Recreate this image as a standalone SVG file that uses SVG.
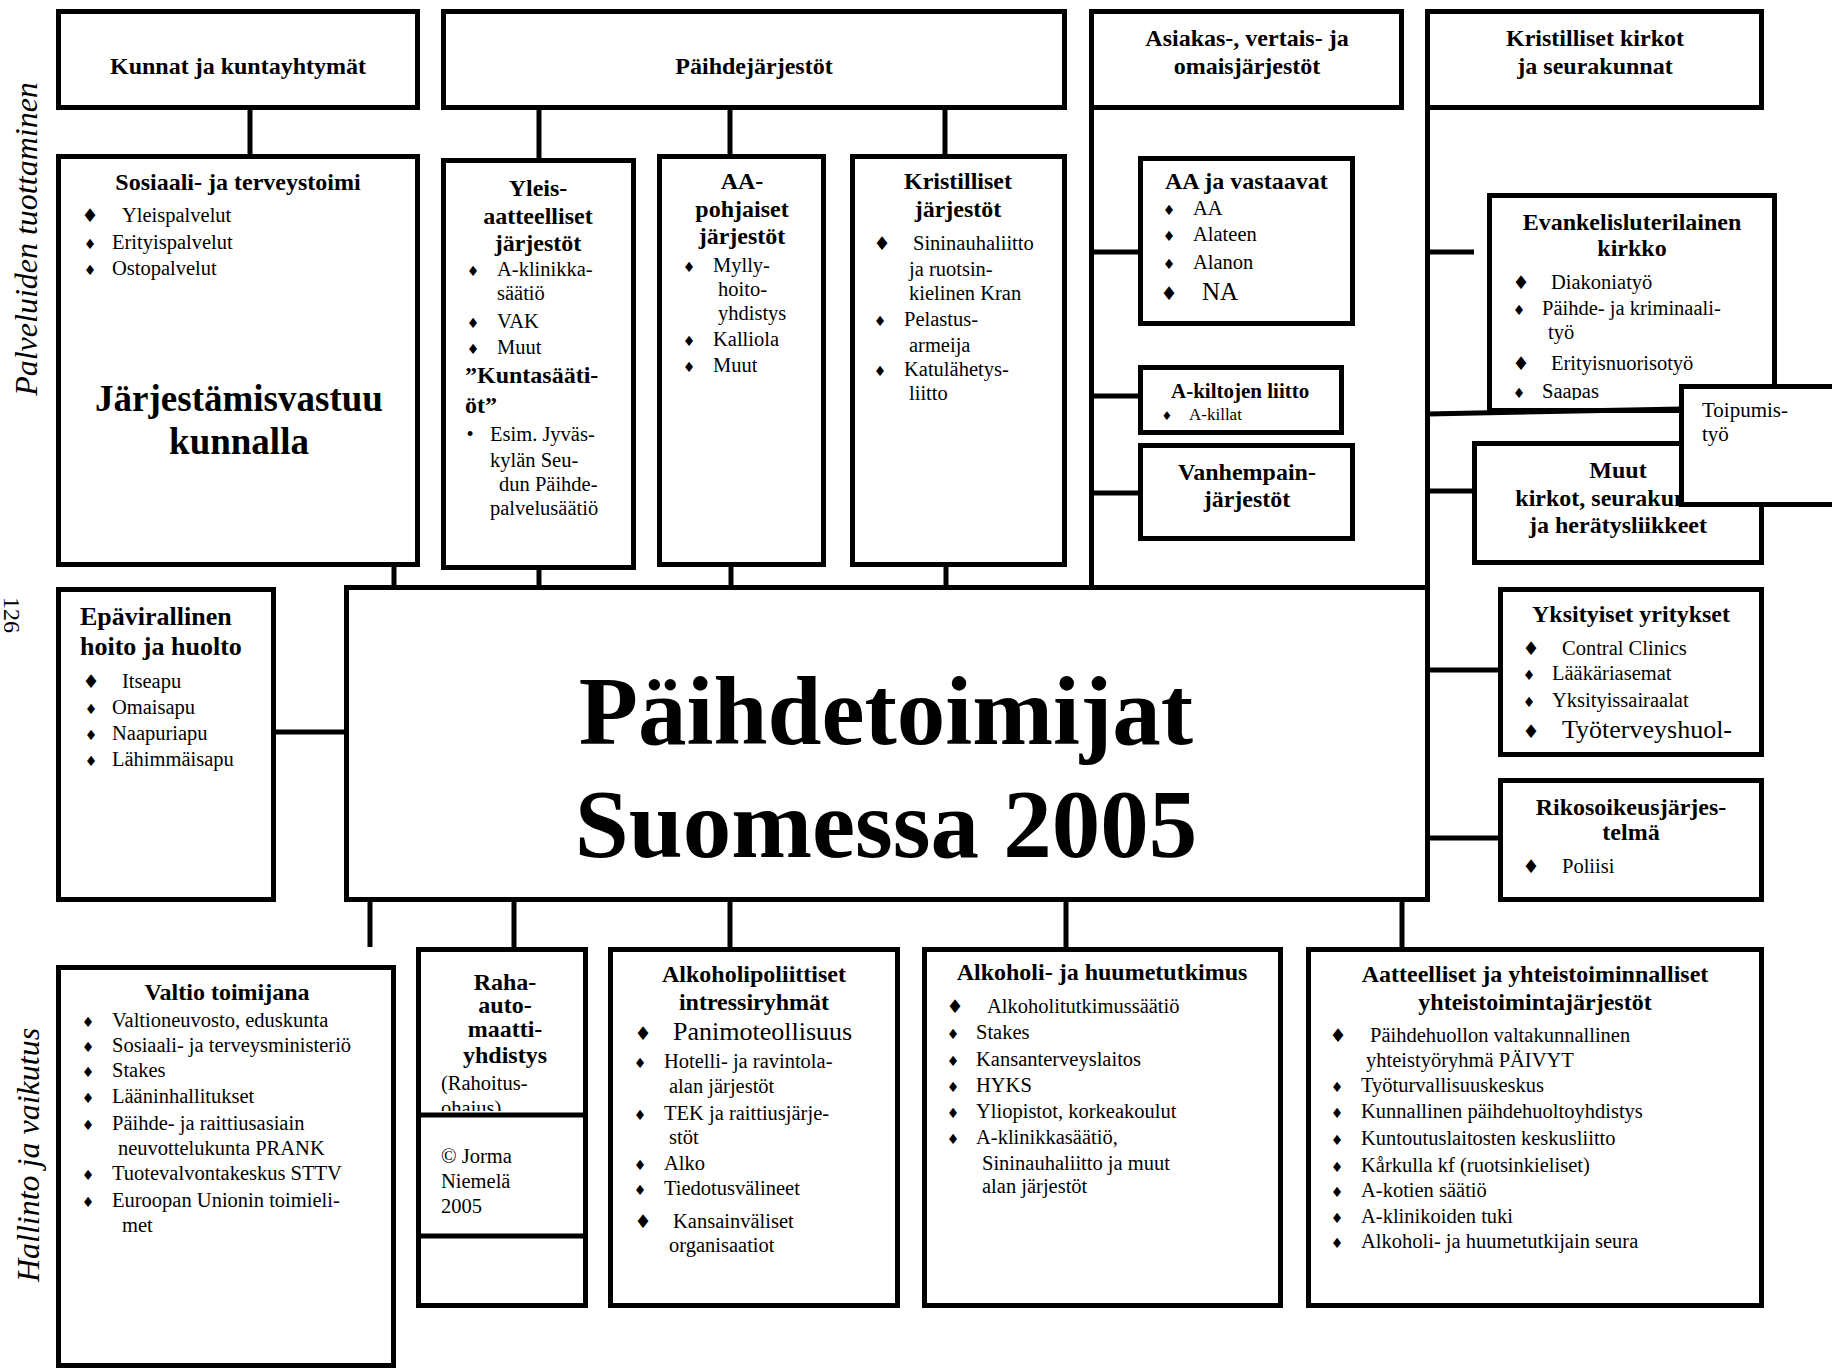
<svg xmlns="http://www.w3.org/2000/svg" width="1832" height="1370" viewBox="0 0 1832 1370">
<style>
.bx{fill:#fff;stroke:#000;stroke-width:5}
.ln{stroke:#000;stroke-width:5;fill:none}
text{font-family:"Liberation Serif","Times New Roman",serif;font-size:20.5px;fill:#000}
.h{font-weight:bold;font-size:24px;text-anchor:middle}
.hs{font-weight:bold;font-size:24px}
.d{font-family:"DejaVu Sans",sans-serif;font-size:14px;text-anchor:middle}
.D{font-family:"DejaVu Sans",sans-serif;font-size:19px;text-anchor:middle}
.side{font-style:italic;font-size:32px;text-anchor:middle}
</style>
<defs>
<clipPath id="clipEv"><rect x="1490" y="196" width="290" height="204"/></clipPath>
<clipPath id="clipRaha"><rect x="419" y="950" width="166" height="161"/></clipPath>
</defs>
<rect width="1832" height="1370" fill="#fff"/>

<g id="side-labels">
<text class="side" transform="translate(37,239) rotate(-90)">Palveluiden tuottaminen</text>
<text class="side" transform="translate(39,1155) rotate(-90)">Hallinto ja vaikutus</text>
<text transform="translate(4,615) rotate(90)" style="font-size:24px;text-anchor:middle">126</text>
</g>

<g id="connectors">
<line class="ln" x1="250" y1="110" x2="250" y2="156"/>
<line class="ln" x1="539" y1="110" x2="539" y2="160"/>
<line class="ln" x1="730" y1="110" x2="730" y2="156"/>
<line class="ln" x1="945" y1="110" x2="945" y2="156"/>
<line class="ln" x1="1091.5" y1="108" x2="1091.5" y2="588"/>
<line class="ln" x1="1091.5" y1="252" x2="1140" y2="252"/>
<line class="ln" x1="1091.5" y1="396" x2="1140" y2="396"/>
<line class="ln" x1="1091.5" y1="493" x2="1140" y2="493"/>
<line class="ln" x1="1427.5" y1="108" x2="1427.5" y2="902"/>
<line class="ln" x1="1427.5" y1="252" x2="1474" y2="252"/>
<line class="ln" x1="1427.5" y1="491" x2="1474" y2="491"/>
<line class="ln" x1="1427.5" y1="670" x2="1500" y2="670"/>
<line class="ln" x1="1427.5" y1="838" x2="1500" y2="838"/>
<line class="ln" x1="394" y1="565" x2="394" y2="588"/>
<line class="ln" x1="539" y1="568" x2="539" y2="588"/>
<line class="ln" x1="731" y1="565" x2="731" y2="588"/>
<line class="ln" x1="946" y1="565" x2="946" y2="588"/>
<line class="ln" x1="274" y1="732" x2="348" y2="732"/>
<line class="ln" x1="370" y1="900" x2="370" y2="947"/>
<line class="ln" x1="514" y1="900" x2="514" y2="949"/>
<line class="ln" x1="730" y1="900" x2="730" y2="949"/>
<line class="ln" x1="1066" y1="900" x2="1066" y2="949"/>
<line class="ln" x1="1402" y1="900" x2="1402" y2="949"/>
</g>

<g id="kunnat">
<rect class="bx" x="58.5" y="11.5" width="359" height="96"/>
<text class="h" x="238" y="74">Kunnat ja kuntayhtymät</text>
</g>

<g id="paihdejarjestot">
<rect class="bx" x="443.5" y="11.5" width="621" height="96"/>
<text class="h" x="754" y="74">Päihdejärjestöt</text>
</g>

<g id="asiakas">
<rect class="bx" x="1091.5" y="11.5" width="310" height="96"/>
<text class="h" x="1247" y="46">Asiakas-, vertais- ja</text>
<text class="h" x="1247" y="74">omaisjärjestöt</text>
</g>

<g id="kirkot">
<rect class="bx" x="1427.5" y="11.5" width="334" height="96"/>
<text class="h" x="1595" y="46">Kristilliset kirkot</text>
<text class="h" x="1595" y="74">ja seurakunnat</text>
</g>

<g id="sosiaali">
<rect class="bx" x="58.5" y="156.5" width="359" height="408"/>
<text class="h" x="238" y="190">Sosiaali- ja terveystoimi</text>
<text class="D" x="90" y="222">♦</text><text x="122" y="222">Yleispalvelut</text>
<text class="d" x="90" y="249">♦</text><text x="112" y="249">Erityispalvelut</text>
<text class="d" x="90" y="275">♦</text><text x="112" y="275">Ostopalvelut</text>
<text class="h" x="239" y="411" style="font-size:37px">Järjestämisvastuu</text>
<text class="h" x="239" y="454" style="font-size:37px">kunnalla</text>
</g>

<g id="yleis">
<rect class="bx" x="443.5" y="160.5" width="190" height="407"/>
<text class="h" x="538" y="196">Yleis-</text>
<text class="h" x="538" y="224">aatteelliset</text>
<text class="h" x="538" y="251">järjestöt</text>
<text class="d" x="473" y="276">♦</text><text x="497" y="276">A-klinikka-</text>
<text x="497" y="300">säätiö</text>
<text class="d" x="473" y="328">♦</text><text x="497" y="328">VAK</text>
<text class="d" x="473" y="354">♦</text><text x="497" y="354">Muut</text>
<text class="hs" x="465" y="383">”Kuntasääti-</text>
<text class="hs" x="465" y="413">öt”</text>
<text x="470" y="441" style="text-anchor:middle">•</text><text x="490" y="441">Esim. Jyväs-</text>
<text x="490" y="467">kylän Seu-</text>
<text x="499" y="491">dun Päihde-</text>
<text x="490" y="515">palvelusäätiö</text>
</g>

<g id="aa-pohjaiset">
<rect class="bx" x="659.5" y="156.5" width="164" height="408"/>
<text class="h" x="742" y="189">AA-</text>
<text class="h" x="742" y="217">pohjaiset</text>
<text class="h" x="742" y="244">järjestöt</text>
<text class="d" x="689" y="272">♦</text><text x="713" y="272">Mylly-</text>
<text x="718" y="296">hoito-</text>
<text x="718" y="320">yhdistys</text>
<text class="d" x="689" y="346">♦</text><text x="713" y="346">Kalliola</text>
<text class="d" x="689" y="372">♦</text><text x="713" y="372">Muut</text>
</g>

<g id="kristilliset-jarjestot">
<rect class="bx" x="852.5" y="156.5" width="212" height="408"/>
<text class="h" x="958" y="189">Kristilliset</text>
<text class="h" x="958" y="217">järjestöt</text>
<text class="D" x="882" y="250">♦</text><text x="913" y="250">Sininauhaliitto</text>
<text x="909" y="276">ja ruotsin-</text>
<text x="909" y="300">kielinen Kran</text>
<text class="d" x="880" y="326">♦</text><text x="904" y="326">Pelastus-</text>
<text x="909" y="352">armeija</text>
<text class="d" x="880" y="376">♦</text><text x="904" y="376">Katulähetys-</text>
<text x="909" y="400">liitto</text>
</g>

<g id="aa-vastaavat">
<rect class="bx" x="1140.5" y="158.5" width="212" height="165"/>
<text class="hs" x="1165" y="189">AA ja vastaavat</text>
<text class="d" x="1169" y="215">♦</text><text x="1193" y="215">AA</text>
<text class="d" x="1169" y="241">♦</text><text x="1193" y="241">Alateen</text>
<text class="d" x="1169" y="269">♦</text><text x="1193" y="269">Alanon</text>
<text class="D" x="1169" y="300">♦</text><text x="1202" y="300" style="font-size:25px">NA</text>
</g>

<g id="a-kiltojen-liitto">
<rect class="bx" x="1140.5" y="367.5" width="201" height="65"/>
<text class="hs" x="1171" y="398" style="font-size:21px">A-kiltojen liitto</text>
<text class="d" x="1167" y="420" style="font-size:12px">♦</text><text x="1189" y="420" style="font-size:17px">A-killat</text>
</g>

<g id="vanhempain">
<rect class="bx" x="1140.5" y="445.5" width="212" height="93"/>
<text class="h" x="1247" y="480">Vanhempain-</text>
<text class="h" x="1247" y="507">järjestöt</text>
</g>

<g id="evankelis">
<rect class="bx" x="1489.5" y="195.5" width="285" height="215"/>
<text class="h" x="1632" y="230">Evankelisluterilainen</text>
<text class="h" x="1632" y="256">kirkko</text>
<text class="D" x="1521" y="289">♦</text><text x="1551" y="289">Diakoniatyö</text>
<text class="d" x="1519" y="315">♦</text><text x="1542" y="315">Päihde- ja kriminaali-</text>
<text x="1548" y="339">työ</text>
<text class="D" x="1521" y="370">♦</text><text x="1551" y="370">Erityisnuorisotyö</text>
<g clip-path="url(#clipEv)"><text class="d" x="1519" y="398">♦</text><text x="1542" y="398">Saapas</text></g>
</g>

<line class="ln" x1="1427.5" y1="414" x2="1682" y2="409"/>

<g id="muut-kirkot">
<rect class="bx" x="1474.5" y="443.5" width="287" height="119"/>
<text class="h" x="1618" y="478">Muut</text>
<text class="h" x="1618" y="506">kirkot, seurakunnat</text>
<text class="h" x="1618" y="533">ja herätysliikkeet</text>
</g>

<g id="toipumistyo">
<rect class="bx" x="1681.5" y="386.5" width="170" height="118"/>
<text x="1702" y="417" style="font-size:21px">Toipumis-</text>
<text x="1702" y="441" style="font-size:21px">työ</text>
</g>

<g id="epavirallinen">
<rect class="bx" x="58.5" y="589.5" width="215" height="310"/>
<text class="hs" x="80" y="625" style="font-size:26px">Epävirallinen</text>
<text class="hs" x="80" y="655" style="font-size:26px">hoito ja huolto</text>
<text class="D" x="91" y="688">♦</text><text x="122" y="688">Itseapu</text>
<text class="d" x="91" y="714">♦</text><text x="112" y="714">Omaisapu</text>
<text class="d" x="91" y="740">♦</text><text x="112" y="740">Naapuriapu</text>
<text class="d" x="91" y="766">♦</text><text x="112" y="766">Lähimmäisapu</text>
</g>

<g id="paihdetoimijat">
<rect class="bx" x="346.5" y="587.5" width="1081" height="312"/>
<text class="h" x="886" y="744" style="font-size:97px">Päihdetoimijat</text>
<text class="h" x="886" y="857" style="font-size:97px">Suomessa 2005</text>
</g>

<g id="yksityiset">
<rect class="bx" x="1500.5" y="589.5" width="261" height="165"/>
<text class="h" x="1631" y="622">Yksityiset yritykset</text>
<text class="D" x="1531" y="655">♦</text><text x="1562" y="655">Contral Clinics</text>
<text class="d" x="1529" y="680">♦</text><text x="1552" y="680">Lääkäriasemat</text>
<text class="d" x="1529" y="707">♦</text><text x="1552" y="707">Yksityissairaalat</text>
<text class="D" x="1531" y="738">♦</text><text x="1562" y="738" style="font-size:26px">Työterveyshuol-</text>
</g>

<g id="rikosoikeus">
<rect class="bx" x="1500.5" y="780.5" width="261" height="119"/>
<text class="h" x="1631" y="815">Rikosoikeusjärjes-</text>
<text class="h" x="1631" y="840">telmä</text>
<text class="D" x="1531" y="873">♦</text><text x="1562" y="873">Poliisi</text>
</g>

<g id="valtio">
<rect class="bx" x="58.5" y="967.5" width="335" height="398"/>
<text class="h" x="227" y="1000">Valtio toimijana</text>
<text class="d" x="88" y="1027">♦</text><text x="112" y="1027">Valtioneuvosto, eduskunta</text>
<text class="d" x="88" y="1052">♦</text><text x="112" y="1052">Sosiaali- ja terveysministeriö</text>
<text class="d" x="88" y="1077">♦</text><text x="112" y="1077">Stakes</text>
<text class="d" x="88" y="1103">♦</text><text x="112" y="1103">Lääninhallitukset</text>
<text class="d" x="88" y="1130">♦</text><text x="112" y="1130">Päihde- ja raittiusasiain</text>
<text x="118" y="1155">neuvottelukunta PRANK</text>
<text class="d" x="88" y="1180">♦</text><text x="112" y="1180">Tuotevalvontakeskus STTV</text>
<text class="d" x="88" y="1207">♦</text><text x="112" y="1207">Euroopan Unionin toimieli-</text>
<text x="122" y="1232">met</text>
</g>

<g id="raha-automaattiyhdistys">
<rect class="bx" x="418.5" y="949.5" width="167" height="356"/>
<line class="ln" x1="418" y1="1115" x2="586" y2="1115"/>
<line class="ln" x1="418" y1="1236" x2="586" y2="1236"/>
<text class="h" x="505" y="990">Raha-</text>
<text class="h" x="505" y="1013">auto-</text>
<text class="h" x="505" y="1037">maatti-</text>
<text class="h" x="505" y="1063">yhdistys</text>
<text x="441" y="1090">(Rahoitus-</text>
<g clip-path="url(#clipRaha)"><text x="441" y="1115">ohajus)</text></g>
<text x="441" y="1163">© Jorma</text>
<text x="441" y="1188">Niemelä</text>
<text x="441" y="1213">2005</text>
</g>

<g id="alkoholipoliittiset">
<rect class="bx" x="610.5" y="949.5" width="287" height="356"/>
<text class="h" x="754" y="982">Alkoholipoliittiset</text>
<text class="h" x="754" y="1010">intressiryhmät</text>
<text class="D" x="643" y="1040">♦</text><text x="673" y="1040" style="font-size:26px">Panimoteollisuus</text>
<text class="d" x="640" y="1068">♦</text><text x="664" y="1068">Hotelli- ja ravintola-</text>
<text x="669" y="1093">alan järjestöt</text>
<text class="d" x="640" y="1120">♦</text><text x="664" y="1120">TEK ja raittiusjärje-</text>
<text x="669" y="1144">stöt</text>
<text class="d" x="640" y="1170">♦</text><text x="664" y="1170">Alko</text>
<text class="d" x="640" y="1195">♦</text><text x="664" y="1195">Tiedotusvälineet</text>
<text class="D" x="643" y="1228">♦</text><text x="673" y="1228">Kansainväliset</text>
<text x="669" y="1252">organisaatiot</text>
</g>

<g id="alkoholi-huumetutkimus">
<rect class="bx" x="924.5" y="949.5" width="356" height="356"/>
<text class="h" x="1102" y="980">Alkoholi- ja huumetutkimus</text>
<text class="D" x="955" y="1013">♦</text><text x="987" y="1013">Alkoholitutkimussäätiö</text>
<text class="d" x="953" y="1039">♦</text><text x="976" y="1039">Stakes</text>
<text class="d" x="953" y="1066">♦</text><text x="976" y="1066">Kansanterveyslaitos</text>
<text class="d" x="953" y="1092">♦</text><text x="976" y="1092">HYKS</text>
<text class="d" x="953" y="1118">♦</text><text x="976" y="1118">Yliopistot, korkeakoulut</text>
<text class="d" x="953" y="1144">♦</text><text x="976" y="1144">A-klinikkasäätiö,</text>
<text x="982" y="1170">Sininauhaliitto ja muut</text>
<text x="982" y="1193">alan järjestöt</text>
</g>

<g id="aatteelliset">
<rect class="bx" x="1308.5" y="949.5" width="453" height="356"/>
<text class="h" x="1535" y="982">Aatteelliset ja yhteistoiminnalliset</text>
<text class="h" x="1535" y="1010">yhteistoimintajärjestöt</text>
<text class="D" x="1338" y="1042">♦</text><text x="1370" y="1042">Päihdehuollon valtakunnallinen</text>
<text x="1366" y="1067">yhteistyöryhmä PÄIVYT</text>
<text class="d" x="1337" y="1092">♦</text><text x="1361" y="1092">Työturvallisuuskeskus</text>
<text class="d" x="1337" y="1118">♦</text><text x="1361" y="1118">Kunnallinen päihdehuoltoyhdistys</text>
<text class="d" x="1337" y="1145">♦</text><text x="1361" y="1145">Kuntoutuslaitosten keskusliitto</text>
<text class="d" x="1337" y="1172">♦</text><text x="1361" y="1172">Kårkulla kf (ruotsinkieliset)</text>
<text class="d" x="1337" y="1197">♦</text><text x="1361" y="1197">A-kotien säätiö</text>
<text class="d" x="1337" y="1223">♦</text><text x="1361" y="1223">A-klinikoiden tuki</text>
<text class="d" x="1337" y="1248">♦</text><text x="1361" y="1248">Alkoholi- ja huumetutkijain seura</text>
</g>
</svg>
